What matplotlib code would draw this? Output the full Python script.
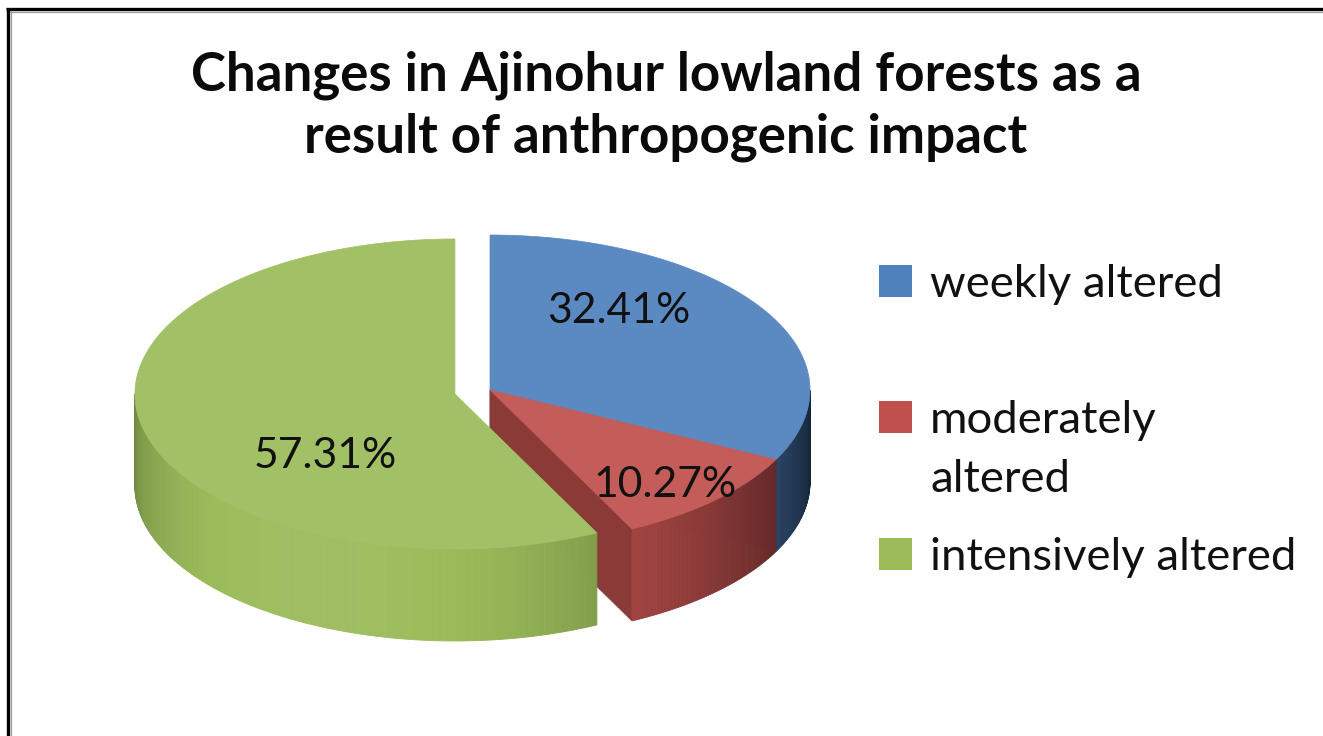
import numpy as np
import matplotlib
matplotlib.use('Agg')
import matplotlib.pyplot as plt
from matplotlib.patches import Polygon, Rectangle
from matplotlib.colors import to_rgb

# ---------------- data ----------------
categories = ['weekly altered', 'moderately\naltered', 'intensively altered']
values = [32.41, 10.27, 57.31]
colors = ['#4F81BD', '#C0504D', '#9BBB59']
explode = [0, 0, 36]
title_lines = ['Changes in Ajinohur lowland forests as a',
               'result of anthropogenic impact']

# ---------------- layout ----------------
W, H = 1323, 736
fig = plt.figure(figsize=(W / 100, H / 100), dpi=100)
fig.patch.set_facecolor('white')
ax = fig.add_axes([0, 0, 1, 1])
ax.set_xlim(0, W)
ax.set_ylim(H, 0)
ax.axis('off')

cx, cy, rx, ry, depth = 490, 390, 320, 155, 92
FONT = ['Lato', 'DejaVu Sans']


def shade(c, f):
    c = np.array(to_rgb(c))
    if f <= 1:
        return tuple(c * f)
    return tuple(c + (1 - c) * (f - 1))


def light(theta_deg):
    return 0.5 + 0.55 * np.cos(np.radians(theta_deg - 205))


def pt(th, ox, oy, z=0.0):
    t = np.radians(th)
    return (cx + ox + rx * np.sin(t), cy + oy - ry * np.cos(t) + z)


total = float(sum(values))
angles = np.concatenate([[0], np.cumsum(values) / total * 360.0])

for i, (v, col) in enumerate(zip(values, colors)):
    a0, a1 = angles[i], angles[i + 1]
    mid = np.radians((a0 + a1) / 2)
    ox = explode[i] * np.sin(mid)
    oy = -explode[i] * np.cos(mid) * ry / rx
    c0 = (cx + ox, cy + oy)

    # cut faces (radial walls)
    for a, sgn in ((a0, -1), (a1, 1)):
        n = np.radians(a + sgn * 90)
        if -np.cos(n) > 1e-6:
            p_top = pt(a, ox, oy)
            p_bot = pt(a, ox, oy, depth)
            poly = [c0, p_top, p_bot, (c0[0], c0[1] + depth)]
            fc = shade(col, 0.72)
            ax.add_patch(Polygon(poly, closed=True, facecolor=fc,
                                 edgecolor=fc, lw=0.5))

    # outer side wall (front part only)
    s0, s1 = max(a0, 90), min(a1, 270)
    if s1 > s0:
        ths = np.linspace(s0, s1, max(int((s1 - s0) * 2), 2) + 1)
        for ta, tb in zip(ths[:-1], ths[1:]):
            fc = shade(col, light((ta + tb) / 2))
            poly = [pt(ta, ox, oy), pt(tb, ox, oy),
                    pt(tb, ox, oy, depth), pt(ta, ox, oy, depth)]
            ax.add_patch(Polygon(poly, closed=True, facecolor=fc,
                                 edgecolor=fc, lw=0.6))

    # top face
    ths = np.linspace(a0, a1, int((a1 - a0) * 2) + 2)
    poly = [c0] + [pt(t, ox, oy) for t in ths]
    fc = shade(col, 1.07)
    ax.add_patch(Polygon(poly, closed=True, facecolor=fc, edgecolor=fc,
                         lw=0.5))

renderer = fig.canvas.get_renderer()


def fit_size(s, target_w, **kw):
    t = ax.text(0, 0, s, fontsize=30, **kw)
    w = t.get_window_extent(renderer=renderer).width
    t.remove()
    return 30 * target_w / w


# ---------------- percent labels ----------------
label_pos = [(619, 323), (665, 497), (325, 468)]
lab_size = fit_size('10.27%', 143, family=FONT)
for v, (x, y) in zip(values, label_pos):
    ax.text(x, y, f'{v:.2f}%', fontsize=lab_size, family=FONT,
            ha='center', va='baseline', color='#111111')

# ---------------- title ----------------
ttl_size = fit_size(title_lines[0], 948, family=FONT, fontweight='bold')
for line, yb in zip(title_lines, (90, 153)):
    ax.text(666, yb, line, fontsize=ttl_size, family=FONT,
            fontweight='bold', ha='center', va='baseline', color='#0a0a0a')

# ---------------- legend ----------------
leg_size = fit_size('intensively altered', 365, family=FONT)
leg_y = [297, 433, 570]
for cat, col, yb in zip(categories, colors, leg_y):
    ax.add_patch(Rectangle((879, yb - 32), 33, 32, facecolor=col,
                           edgecolor='none'))
    for k, line in enumerate(cat.split('\n')):
        ax.text(930, yb + k * 59, line, fontsize=leg_size, family=FONT,
                ha='left', va='baseline', color='#111111')

# ---------------- frame ----------------
ax.plot([6, W], [9, 9], color='black', lw=2.4, solid_capstyle='butt')
ax.plot([8, 8], [8, H], color='black', lw=2.4, solid_capstyle='butt')
ax.plot([10, W], [11.5, 11.5], color='#9a9a9a', lw=0.9)
ax.plot([10.5, 10.5], [11, H], color='#9a9a9a', lw=0.9)

fig.savefig('out.png', dpi=100, facecolor='white')
